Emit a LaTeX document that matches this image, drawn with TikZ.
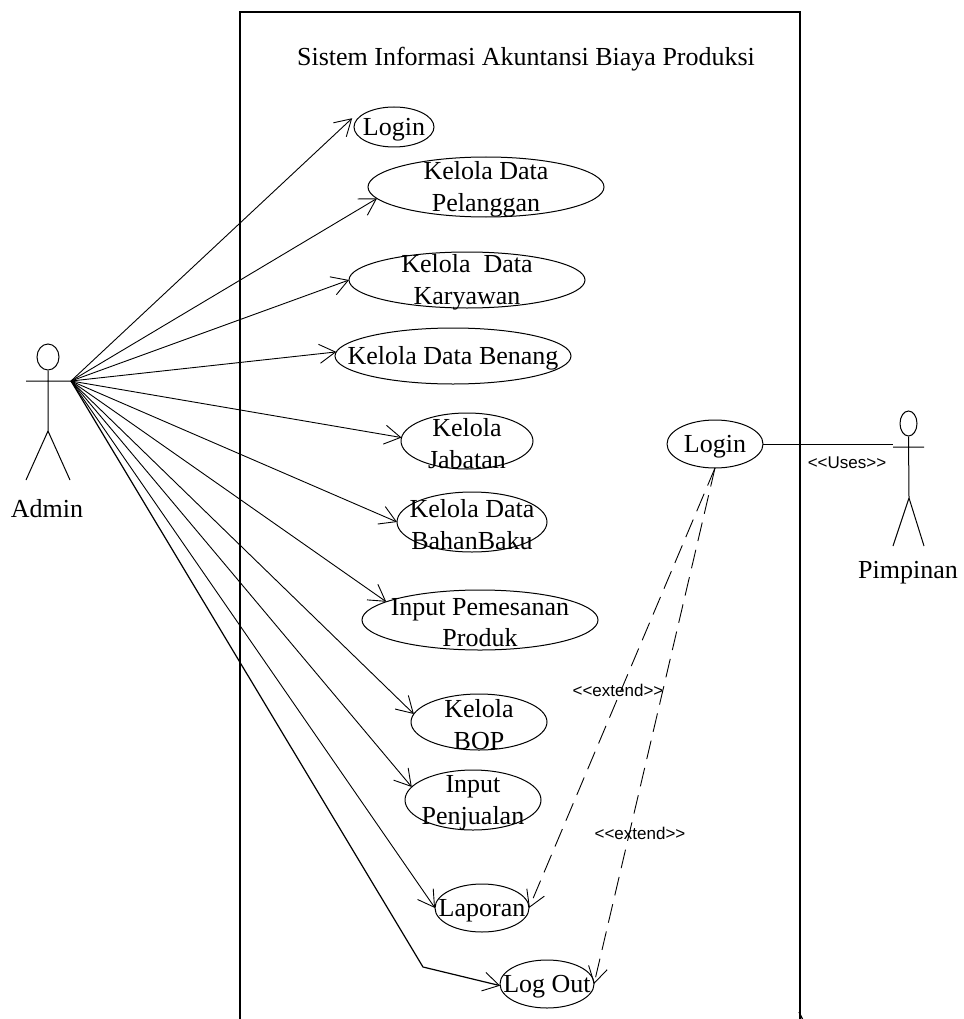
\documentclass[tikz,border=0pt]{standalone}
\usepackage{fontspec}
\setmainfont{Liberation Serif}
\newfontfamily\helv{Liberation Sans}
\usetikzlibrary{arrows.meta,shapes.geometric}
\tikzset{
  uc/.style={draw,ellipse,inner sep=0pt,outer sep=0pt,line width=1pt},
  uctext/.style={align=center,inner sep=0pt,font=\fontsize{26}{31.5}\selectfont},
  assoc/.style={line width=0.9pt,-{Straight Barb[length=16pt,width=19pt,line width=0.9pt]}},
  ext/.style={assoc,dash pattern=on 19pt off 9pt},
  small/.style={inner sep=0pt,font=\helv\fontsize{17}{20}\selectfont},
  actorline/.style={line width=1pt}
}
\newcommand{\usecase}[6]{%
  \node[uc,minimum width=#4*2pt,minimum height=#5*2pt] (#1) at (#2,#3) {};
  \node[uctext,yshift=-2.5pt] (#1-t) at (#2,#3) {#6};
}
\begin{document}
\begin{tikzpicture}[x=1pt,y=-1pt]
\useasboundingbox (0,0) rectangle (963,1019);
\clip (0,0) rectangle (963,1019);
% system boundary
\draw[line width=1.2pt] (240,1025) -- (240,12) -- (800,12) -- (800,1025);
\draw[line width=1.2pt] (799,1012) -- (803,1020);
\node[uctext] (title) at (526,59) {Sistem Informasi Akuntansi Biaya Produksi};
% use cases
\usecase{login}{394}{127}{40}{20}{Login}
\usecase{pel}{486}{187}{118}{30}{Kelola Data\\Pelanggan}
\usecase{kar}{467}{280}{118}{28}{Kelola~~Data\\Karyawan}
\usecase{ben}{453}{356}{118}{28}{Kelola Data Benang}
\usecase{jab}{467}{441}{66}{28}{Kelola\\Jabatan}
\usecase{bah}{472}{522}{75}{30}{Kelola Data\\BahanBaku}
\usecase{pem}{480}{620}{118}{30}{Input Pemesanan\\Produk}
\usecase{bop}{479}{722}{68}{28}{Kelola\\BOP}
\usecase{pen}{473}{800}{68}{30}{Input\\Penjualan}
\usecase{lap}{482}{908}{47}{24}{Laporan}
\usecase{out}{547}{984}{47}{24}{Log Out}
\usecase{logb}{715}{444}{48}{24}{Login}
% Admin actor
\node[draw,ellipse,inner sep=0pt,minimum width=22pt,minimum height=26pt,line width=1pt] (adminhead) at (48,357) {};
\coordinate (hand) at (71,381);
\coordinate (adminl) at (26,381);
\coordinate (adminhip) at (48,431);
\coordinate (adminf1) at (26,480);
\coordinate (adminf2) at (70,480);
\draw[actorline] (adminhead.south) -- (adminhip) (adminl) -- (hand) (adminf1) -- (adminhip) -- (adminf2);
\node[uctext] (admin) at (47,509) {Admin};
% Pimpinan actor
\node[draw,ellipse,inner sep=0pt,minimum width=17pt,minimum height=25pt,line width=1pt] (pimhead) at (908.5,423.5) {};
\coordinate (piml) at (893,447);
\coordinate (pimr) at (924,447);
\coordinate (pimhip) at (909,498);
\coordinate (pimf1) at (893,546);
\coordinate (pimf2) at (924,546);
\coordinate (pimc) at (893,444);
\draw[actorline] (pimhead.south) -- (pimhip) (piml) -- (pimr) (pimf1) -- (pimhip) -- (pimf2);
\node[uctext] (pim) at (908,573) {Pimpinan};
% associations
\draw[assoc] (hand) -- ([xshift=-3pt,yshift=4pt]login.173);
\draw[assoc] (hand) -- (pel.186);
\draw[assoc] (hand) -- (kar.180);
\draw[assoc] (hand) -- (ben.178);
\draw[assoc] (hand) -- (jab.177);
\draw[assoc] (hand) -- (bah.180);
\draw[assoc] (hand) -- (pem.169);
\draw[assoc] (hand) -- (bop.173);
\draw[assoc] (hand) -- (pen.168);
\draw[assoc] (hand) -- (lap.180);
\coordinate (bend) at (423,967);
\draw[assoc,line width=1.2pt] (hand) -- (bend) -- (out.182);
\draw[line width=0.9pt] (logb.east) -- (pimc);
\draw[ext] (logb.270) -- (lap.0);
\draw[ext] (logb.270) -- (out.0);
\node[small] (ext1) at (618,690) {<<extend>>};
\node[small] (ext2) at (640,833) {<<extend>>};
\node[small] (uses) at (847,463) {<<Uses>>};
\end{tikzpicture}
\end{document}
